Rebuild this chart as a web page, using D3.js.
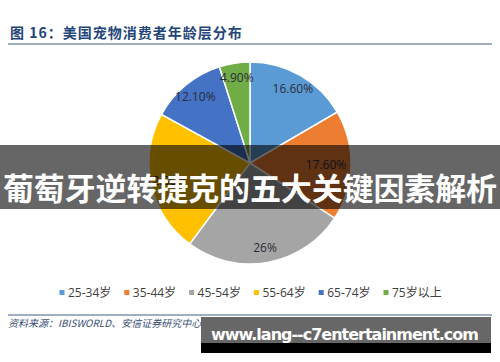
<!DOCTYPE html>
<html>
<head>
<meta charset="utf-8">
<script src="https://cdn.jsdelivr.net/npm/d3@7"></script>
<style>
  body { margin: 0; background: #fff; }
  svg { display: block; }
</style>
</head>
<body>
<div id="chart"></div>
<script>
// age groups and their share of US pet owners (%)
let ages = ["25-34岁", "35-44岁", "45-54岁", "55-64岁", "65-74岁", "75岁以上"];
let shares = [16.6, 17.6, 26, 22.8, 12.1, 4.9];
let share_labels = ["16.60%", "17.60%", "26%", "22.80%", "12.10%", "4.90%"];

let palette = ["#5b9bd5", "#ed7d31", "#a5a5a5", "#ffc000", "#4472c4", "#70ad47"];

function main() {
    let w = 500, h = 362;
    let svg = d3.select("#chart").append("svg")
        .attr("width", w)
        .attr("height", h);

    // title
    let title = svg.append("text")
        .attr("x", 10)
        .attr("y", 38)
        .attr("font-family", "'Noto Sans CJK SC', sans-serif")
        .attr("font-weight", "bold")
        .attr("font-size", 14)
        .attr("letter-spacing", 1)
        .attr("fill", "#24457a");
    title.append("tspan").text("图 16：");
    title.append("tspan").text("美国宠物消费者年龄层分布");

    svg.append("line")
        .attr("x1", 8).attr("x2", 492)
        .attr("y1", 44).attr("y2", 44)
        .attr("stroke", "#7f93ad")
        .attr("stroke-width", 1.5);

    // pie
    let cx = 250, cy = 163, r = 101;
    let data = ages.map((a, i) => ({age: a, value: shares[i], label: share_labels[i], color: palette[i]}));
    let pie = d3.pie().sort(null).value(d => d.value);
    let arc = d3.arc().innerRadius(0).outerRadius(r);
    let labelArc = d3.arc().innerRadius(86).outerRadius(86);

    let g = svg.append("g").attr("transform", `translate(${cx},${cy})`);
    let arcs = pie(data);

    g.selectAll("path.slice")
        .data(arcs)
        .enter().append("path")
        .attr("class", "slice")
        .attr("d", arc)
        .attr("fill", d => d.data.color)
        .attr("stroke", "#fff")
        .attr("stroke-width", 1.5);

    g.selectAll("text.lbl")
        .data(arcs)
        .enter().append("text")
        .attr("class", "lbl")
        .attr("transform", d => {
            let [x, y] = labelArc.centroid(d);
            // excel nudged the orange one inward
            if (d.index == 1) x -= 10;
            return `translate(${x},${y})`;
        })
        .attr("text-anchor", "middle")
        .attr("dy", "0.35em")
        .attr("font-family", "'Open Sans', sans-serif")
        .attr("font-size", 12)
        .attr("fill", "#2b2b3a")
        .text(d => d.data.label);

    // legend
    let legend = svg.append("g");
    let lx = d3.scalePoint().domain(ages).range([62, 386]);
    let items = legend.selectAll("g.item")
        .data(data)
        .enter().append("g")
        .attr("class", "item")
        .attr("transform", d => `translate(${lx(d.age)},293)`);
    items.append("rect")
        .attr("x", -2.5).attr("y", -3)
        .attr("width", 5).attr("height", 5)
        .attr("fill", d => d.color);
    items.append("text")
        .attr("x", 6)
        .attr("dy", "0.35em")
        .attr("font-family", "'Open Sans', 'Noto Sans CJK SC', sans-serif")
        .attr("font-size", 12)
        .attr("fill", "#404040")
        .text(d => d.age);

    svg.append("line")
        .attr("x1", 8).attr("x2", 492)
        .attr("y1", 315).attr("y2", 315)
        .attr("stroke", "#7f93ad")
        .attr("stroke-width", 1.5);

    svg.append("text")
        .attr("x", 8)
        .attr("y", 327)
        .attr("font-family", "'Noto Sans CJK SC', sans-serif")
        .attr("font-style", "italic")
        .attr("font-size", 10)
        .attr("fill", "#3a4f74")
        .text("资料来源：IBISWORLD、安信证券研究中心");

    // overlay banner
    svg.append("rect")
        .attr("x", 0).attr("y", 145)
        .attr("width", w).attr("height", 64)
        .attr("fill", "rgba(0,0,0,0.6)");
    svg.append("text")
        .attr("x", 250)
        .attr("y", 200)
        .attr("text-anchor", "middle")
        .attr("font-family", "'Noto Sans CJK SC', sans-serif")
        .attr("font-weight", "bold")
        .attr("font-size", 31)
        .attr("textLength", 494)
        .attr("fill", "#fff")
        .text("葡萄牙逆转捷克的五大关键因素解析");

    // watermark
    svg.append("rect")
        .attr("x", 201).attr("y", 317)
        .attr("width", 290).attr("height", 26)
        .attr("fill", "rgba(70,70,70,0.82)");
    svg.append("rect")
        .attr("x", 201).attr("y", 343)
        .attr("width", 290).attr("height", 10)
        .attr("fill", "#000");
    svg.append("text")
        .attr("x", 211)
        .attr("y", 340)
        .attr("font-family", "'DejaVu Sans', sans-serif")
        .attr("font-weight", "bold")
        .attr("font-size", 16)
        .attr("textLength", 268)
        .attr("fill", "#fff")
        .text("www.lang--c7entertainment.com");
}

main();
</script>
</body>
</html>
